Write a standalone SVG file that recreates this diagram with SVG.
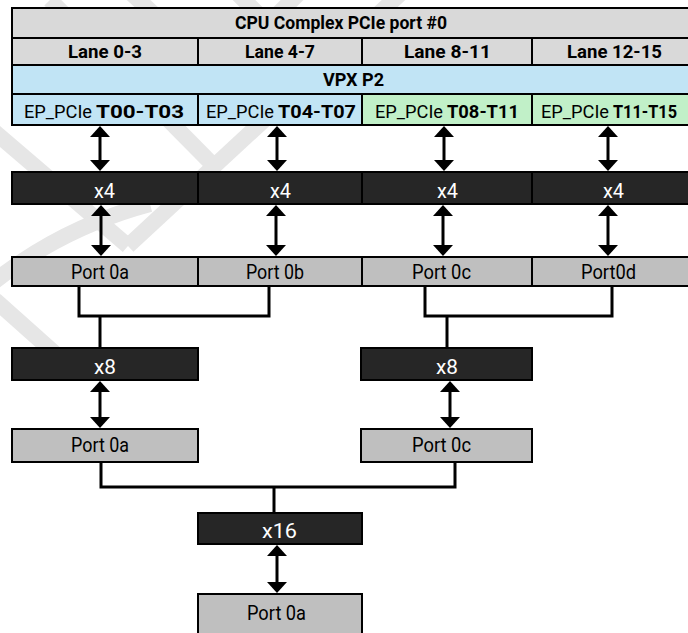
<svg xmlns="http://www.w3.org/2000/svg" width="688" height="633" viewBox="0 0 688 633">
  <style>
    text { font-family: Roboto, "Liberation Sans", sans-serif; fill: #000; }
    .hdr { font-size: 18.5px; font-weight: bold; }
    .ep { font-size: 18px; }
    .b { font-weight: bold; }
    .bar { fill: #262626; stroke: #000; stroke-width: 2; }
    .bar-t { font-size: 21px; fill: #fff; }
    .port { fill: #bfbfbf; stroke: #000; stroke-width: 2; }
    .port-t { font-size: 20.5px; }
    .gray { fill: #d9d9d9; stroke: #000; stroke-width: 2; }
    .blue { fill: #c1e4f5; stroke: #000; stroke-width: 2; }
    .green { fill: #c1f0c8; stroke: #000; stroke-width: 2; }
    .wire { fill: none; stroke: #000; stroke-width: 3; }
    .arrow { stroke: #000; stroke-width: 3; marker-start: url(#head); marker-end: url(#head); }
    .mark { fill: none; stroke: #e6e6e6; stroke-width: 16; }
  </style>
  <defs>
    <marker id="head" viewBox="0 0 11 20" refX="3" refY="10" markerWidth="11" markerHeight="20" markerUnits="userSpaceOnUse" orient="auto-start-reverse">
      <path d="M0,0 L11,10 L0,20 Z" fill="#000"/>
    </marker>
  </defs>

  <rect width="688" height="633" fill="#fff"/>

  <!-- background watermark strokes -->
  <g id="watermark" class="mark">
    <path d="M-10,128 L128,246"/>
    <path d="M128,246 L400,-6"/>
    <path d="M50,0 L213,165"/>
    <path d="M150,204 Q60,228 -10,285"/>
    <path d="M-5,300 L60,358"/>
    <path d="M130,-8 L158,18"/>
    <path d="M236,-8 L262,18"/>
    <path d="M300,-8 L274,18"/>
  </g>

  <!-- CPU complex header table (runs past the right edge) -->
  <g id="cpu-complex">
    <rect class="gray" x="12" y="8" width="677" height="30"/>
    <text class="hdr" x="235" y="29" textLength="212" lengthAdjust="spacingAndGlyphs">CPU Complex PCIe port #0</text>
  </g>
  <g id="lanes">
    <rect class="gray" x="12" y="38" width="186" height="27"/>
    <rect class="gray" x="198" y="38" width="164" height="27"/>
    <rect class="gray" x="362" y="38" width="170" height="27"/>
    <rect class="gray" x="532" y="38" width="157" height="27"/>
    <text class="hdr" x="68" y="58" textLength="74" lengthAdjust="spacingAndGlyphs">Lane 0-3</text>
    <text class="hdr" x="245" y="58" textLength="70" lengthAdjust="spacingAndGlyphs">Lane 4-7</text>
    <text class="hdr" x="404" y="58" textLength="87" lengthAdjust="spacingAndGlyphs">Lane 8-11</text>
    <text class="hdr" x="567" y="58" textLength="95" lengthAdjust="spacingAndGlyphs">Lane 12-15</text>
  </g>
  <g id="vpx-p2">
    <rect class="blue" x="12" y="65" width="677" height="29"/>
    <text class="hdr" x="323" y="86" textLength="61" lengthAdjust="spacingAndGlyphs">VPX P2</text>
  </g>
  <g id="ep-t00-t03">
    <rect class="blue" x="12" y="94" width="186" height="31"/>
    <text class="ep" y="118"><tspan x="24" textLength="68" lengthAdjust="spacingAndGlyphs">EP_PCIe</tspan><tspan class="b" x="96" textLength="88" lengthAdjust="spacingAndGlyphs">T00-T03</tspan></text>
  </g>
  <g id="ep-t04-t07">
    <rect class="blue" x="198" y="94" width="164" height="31"/>
    <text class="ep" y="118"><tspan x="206" textLength="68" lengthAdjust="spacingAndGlyphs">EP_PCIe</tspan><tspan class="b" x="278" textLength="78" lengthAdjust="spacingAndGlyphs">T04-T07</tspan></text>
  </g>
  <g id="ep-t08-t11">
    <rect class="green" x="362" y="94" width="170" height="31"/>
    <text class="ep" y="118"><tspan x="375" textLength="68" lengthAdjust="spacingAndGlyphs">EP_PCIe</tspan><tspan class="b" x="447" textLength="72" lengthAdjust="spacingAndGlyphs">T08-T11</tspan></text>
  </g>
  <g id="ep-t11-t15">
    <rect class="green" x="532" y="94" width="157" height="31"/>
    <text class="ep" y="118"><tspan x="541" textLength="68" lengthAdjust="spacingAndGlyphs">EP_PCIe</tspan><tspan class="b" x="613" textLength="64" lengthAdjust="spacingAndGlyphs">T11-T15</tspan></text>
  </g>

  <!-- x4 link widths -->
  <g id="x4-a"><rect class="bar" x="12" y="172" width="186" height="32"/><text class="bar-t" x="94" y="198" textLength="21" lengthAdjust="spacingAndGlyphs">x4</text></g>
  <g id="x4-b"><rect class="bar" x="198" y="172" width="164" height="32"/><text class="bar-t" x="270" y="198" textLength="21" lengthAdjust="spacingAndGlyphs">x4</text></g>
  <g id="x4-c"><rect class="bar" x="362" y="172" width="170" height="32"/><text class="bar-t" x="437" y="198" textLength="21" lengthAdjust="spacingAndGlyphs">x4</text></g>
  <g id="x4-d"><rect class="bar" x="532" y="172" width="157" height="32"/><text class="bar-t" x="603" y="198" textLength="21" lengthAdjust="spacingAndGlyphs">x4</text></g>

  <!-- x4 ports -->
  <g id="port-0a-x4"><rect class="port" x="12" y="257" width="186" height="29"/><text class="port-t" x="71" y="279" textLength="58" lengthAdjust="spacingAndGlyphs">Port 0a</text></g>
  <g id="port-0b-x4"><rect class="port" x="198" y="257" width="164" height="29"/><text class="port-t" x="246" y="279" textLength="58" lengthAdjust="spacingAndGlyphs">Port 0b</text></g>
  <g id="port-0c-x4"><rect class="port" x="362" y="257" width="170" height="29"/><text class="port-t" x="412" y="279" textLength="59" lengthAdjust="spacingAndGlyphs">Port 0c</text></g>
  <g id="port-0d-x4"><rect class="port" x="532" y="257" width="157" height="29"/><text class="port-t" x="581" y="279" textLength="55" lengthAdjust="spacingAndGlyphs">Port0d</text></g>

  <!-- x8 link widths and ports -->
  <g id="x8-a"><rect class="bar" x="12" y="348" width="186" height="32"/><text class="bar-t" x="94" y="374" textLength="22" lengthAdjust="spacingAndGlyphs">x8</text></g>
  <g id="x8-c"><rect class="bar" x="361" y="348" width="171" height="32"/><text class="bar-t" x="436" y="374" textLength="22" lengthAdjust="spacingAndGlyphs">x8</text></g>
  <g id="port-0a-x8"><rect class="port" x="12" y="429" width="186" height="33"/><text class="port-t" x="71" y="452" textLength="58" lengthAdjust="spacingAndGlyphs">Port 0a</text></g>
  <g id="port-0c-x8"><rect class="port" x="361" y="429" width="171" height="33"/><text class="port-t" x="412" y="452" textLength="59" lengthAdjust="spacingAndGlyphs">Port 0c</text></g>

  <!-- x16 link width and port -->
  <g id="x16"><rect class="bar" x="198" y="513" width="164" height="31"/><text class="bar-t" x="262" y="538" textLength="35" lengthAdjust="spacingAndGlyphs">x16</text></g>
  <g id="port-0a-x16"><rect class="port" x="198" y="594" width="164" height="50"/><text class="port-t" x="247" y="620" textLength="59" lengthAdjust="spacingAndGlyphs">Port 0a</text></g>

  <!-- connectors -->
  <g id="connectors">
    <line class="arrow" x1="100" y1="134" x2="100" y2="163"/>
    <line class="arrow" x1="277" y1="134" x2="277" y2="163"/>
    <line class="arrow" x1="444" y1="134" x2="444" y2="163"/>
    <line class="arrow" x1="608" y1="134" x2="608" y2="163"/>

    <line class="arrow" x1="101" y1="213" x2="101" y2="248"/>
    <line class="arrow" x1="276" y1="213" x2="276" y2="248"/>
    <line class="arrow" x1="443" y1="213" x2="443" y2="248"/>
    <line class="arrow" x1="608" y1="213" x2="608" y2="248"/>

    <path class="wire" d="M79,287 V316 H269 V287"/>
    <path class="wire" d="M100,316 V348"/>
    <path class="wire" d="M425,287 V316 H612 V287"/>
    <path class="wire" d="M447,316 V348"/>

    <line class="arrow" x1="100" y1="389" x2="100" y2="420"/>
    <line class="arrow" x1="450" y1="389" x2="450" y2="420"/>

    <path class="wire" d="M101,463 V487 H455 V463"/>
    <path class="wire" d="M274,487 V513"/>

    <line class="arrow" x1="277" y1="553" x2="277" y2="585"/>
  </g>
</svg>
